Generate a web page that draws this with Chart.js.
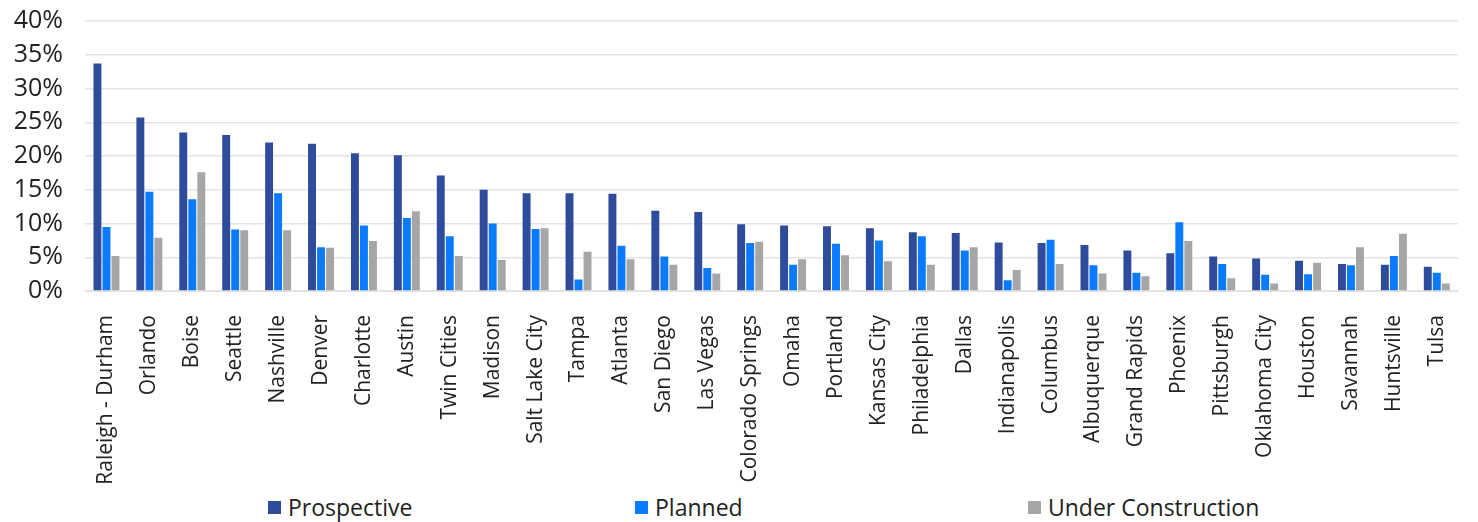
<!DOCTYPE html>
<html>
<head>
<meta charset="utf-8">
<script src="https://cdn.jsdelivr.net/npm/chart.js@4"></script>
<style>
  html, body { margin: 0; padding: 0; background: #fff; }
  #wrap { width: 1478px; height: 492px; position: relative; }
  #legend { width: 1478px; height: 30px; font-family: 'Open Sans', sans-serif; font-size: 23px; color: #222; }
  #legend ul { list-style: none; margin: 0; padding: 0 0 0 268px; display: flex; }
  #legend li { display: flex; align-items: center; line-height: 30px; white-space: nowrap; }
  #legend li:nth-child(1) { width: 367px; }
  #legend li:nth-child(2) { width: 393px; }
  #legend span { display: inline-block; width: 13px; height: 13px; margin-right: 7px; }
</style>
</head>
<body>
<div id="wrap"><canvas id="barChart"></canvas></div>
<div id="legend"></div>
<script>
// data
const cities = ['Raleigh - Durham', 'Orlando', 'Boise', 'Seattle', 'Nashville', 'Denver', 'Charlotte', 'Austin',
  'Twin Cities', 'Madison', 'Salt Lake City', 'Tampa', 'Atlanta', 'San Diego', 'Las Vegas', 'Colorado Springs',
  'Omaha', 'Portland', 'Kansas City', 'Philadelphia', 'Dallas', 'Indianapolis', 'Columbus', 'Albuquerque',
  'Grand Rapids', 'Phoenix', 'Pittsburgh', 'Oklahoma City', 'Houston', 'Savannah', 'Huntsville', 'Tulsa'];
const prospective = [33.7, 25.7, 23.5, 23.1, 22.0, 21.8, 20.4, 20.1, 17.1, 15.0, 14.5, 14.5, 14.4, 11.9, 11.7, 9.9,
  9.7, 9.6, 9.3, 8.7, 8.6, 7.2, 7.1, 6.8, 6.0, 5.6, 5.1, 4.8, 4.5, 4.0, 3.9, 3.6];
const planned = [9.5, 14.7, 13.6, 9.1, 14.5, 6.5, 9.7, 10.8, 8.1, 10.0, 9.2, 1.7, 6.7, 5.1, 3.4, 7.1,
  3.9, 7.0, 7.5, 8.1, 6.0, 1.6, 7.6, 3.8, 2.7, 10.2, 4.0, 2.4, 2.5, 3.8, 5.2, 2.7];
const underConstruction = [5.2, 7.9, 17.6, 9.0, 9.0, 6.4, 7.4, 11.8, 5.2, 4.6, 9.3, 5.8, 4.7, 3.9, 2.6, 7.3,
  4.7, 5.3, 4.4, 3.9, 6.5, 3.1, 4.0, 2.6, 2.2, 7.4, 1.9, 1.1, 4.2, 6.5, 8.5, 1.1];

const font = "'Open Sans', sans-serif";

const chart = new Chart(document.getElementById('barChart'), {
  type: 'bar',
  data: {
    labels: cities,
    datasets: [{
      label: 'Prospective',
      data: prospective,
      backgroundColor: '#2F4B9B'
    }, {
      label: 'Planned',
      data: planned,
      backgroundColor: '#0A7BFF'
    }, {
      label: 'Under Construction',
      data: underConstruction,
      backgroundColor: '#A6A6A6'
    }]
  },
  options: {
    responsive: true,
    maintainAspectRatio: false,
    animation: false,
    datasets: {
      bar: { categoryPercentage: 0.63, barPercentage: 0.88 }
    },
    layout: { padding: 0 },
    scales: {
      x: {
        grid: { display: false },
        border: { color: '#e2e2e2' },
        afterFit: axis => {
          axis.height = 201;
          axis.paddingTop = 0;
          axis.paddingBottom = 0;
        },
        ticks: {
          autoSkip: false,
          minRotation: 90,
          maxRotation: 90,
          padding: 16,
          color: '#222',
          font: { family: font, size: 21 }
        }
      },
      y: {
        min: 0,
        max: 40,
        border: { display: false },
        grid: { color: '#e4e4e4', lineWidth: 1.5, tickLength: 0 },
        afterFit: axis => {
          axis.width = 85;
          axis.paddingTop = 21;
          axis.paddingBottom = 0;
        },
        ticks: {
          stepSize: 5,
          autoSkip: false,
          padding: 22,
          color: '#222',
          font: { family: font, size: 25 },
          callback: v => v + '%'
        }
      }
    },
    plugins: {
      legend: { display: false },
      tooltip: { enabled: false }
    }
  }
});

// html legend, spread out like the original
const ul = document.createElement('ul');
chart.data.datasets.forEach(ds => {
  const li = document.createElement('li');
  const box = document.createElement('span');
  box.style.background = ds.backgroundColor;
  li.appendChild(box);
  li.appendChild(document.createTextNode(ds.label));
  ul.appendChild(li);
});
document.getElementById('legend').appendChild(ul);
</script>
</body>
</html>
